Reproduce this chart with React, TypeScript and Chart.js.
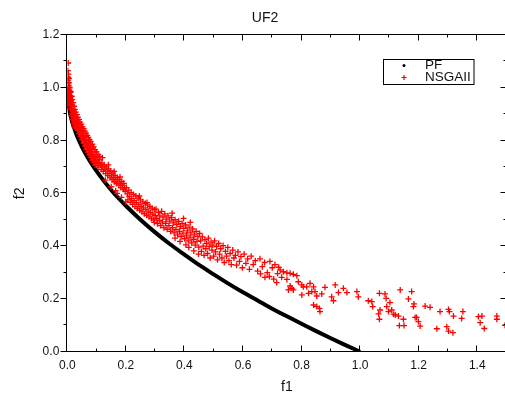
import React, { useEffect, useRef } from 'react';
import { Chart, registerables } from 'chart.js';

Chart.register(...registerables);

const chartTitle = 'UF2';
const xTitle = 'f1';
const yTitle = 'f2';
const xTicks = [0, 0.2, 0.4, 0.6, 0.8, 1.0, 1.2, 1.4];
const yTicks = [0, 0.2, 0.4, 0.6, 0.8, 1.0, 1.2];
const xMin = 0;
const xMax = 1.5;
const yMin = 0;
const yMax = 1.2;
const seriesNames = ['PF', 'NSGAII'];

// PF (true Pareto front)
const pfF1 = [0, 0.001, 0.003, 0.006, 0.01, 0.015, 0.02, 0.03, 0.04, 0.05, 0.065, 0.08, 0.1, 0.12, 0.14, 0.16, 0.18, 0.2, 0.25, 0.3, 0.35, 0.4, 0.45, 0.5, 0.55, 0.6, 0.65, 0.7, 0.75, 0.8, 0.85, 0.9, 0.95, 1.0];
const pfF2 = [1.0, 0.968, 0.945, 0.923, 0.9, 0.878, 0.859, 0.827, 0.8, 0.776, 0.745, 0.717, 0.684, 0.654, 0.626, 0.6, 0.576, 0.553, 0.5, 0.452, 0.408, 0.368, 0.329, 0.293, 0.258, 0.225, 0.194, 0.163, 0.134, 0.106, 0.078, 0.051, 0.025, 0.0];

// NSGAII population
const nsgaPoints: [number, number][] = [
  [0.003, 1.094], [0.002, 1.065], [0.004, 1.052], [0.003, 1.040], [0.006, 1.035], [0.002, 1.028], [0.005, 1.020], [0.004, 1.008],
  [0.007, 1.002], [0.003, 0.995], [0.006, 0.988], [0.009, 0.982], [0.005, 0.975], [0.008, 0.968], [0.011, 0.962], [0.007, 0.955],
  [0.010, 0.950], [0.013, 0.945], [0.009, 0.938], [0.012, 0.932], [0.015, 0.928], [0.011, 0.921], [0.014, 0.915], [0.018, 0.910],
  [0.016, 0.903], [0.020, 0.898], [0.014, 0.895], [0.019, 0.890], [0.023, 0.885], [0.018, 0.880], [0.022, 0.875], [0.026, 0.871],
  [0.021, 0.866], [0.025, 0.861], [0.029, 0.858], [0.024, 0.852], [0.028, 0.848], [0.032, 0.845], [0.004, 0.962], [0.002, 0.978],
  [0.006, 0.948], [0.009, 0.970], [0.007, 0.990], [0.004, 1.015], [0.008, 1.000],
  [0.012, 0.985], [0.015, 0.968], [0.017, 0.955], [0.020, 0.944], [0.023, 0.930], [0.026, 0.918], [0.029, 0.908], [0.033, 0.898],
  [0.036, 0.888], [0.040, 0.880], [0.044, 0.870], [0.048, 0.862], [0.052, 0.852], [0.056, 0.845], [0.060, 0.836], [0.064, 0.828],
  [0.068, 0.820], [0.072, 0.812], [0.076, 0.803], [0.080, 0.796], [0.085, 0.786], [0.090, 0.776], [0.095, 0.766], [0.100, 0.757],
  [0.105, 0.748], [0.110, 0.740],
  [0.016, 0.935], [0.022, 0.912], [0.027, 0.893], [0.033, 0.874], [0.039, 0.862], [0.044, 0.850], [0.050, 0.838], [0.055, 0.826],
  [0.061, 0.815], [0.067, 0.803], [0.073, 0.792], [0.079, 0.780], [0.085, 0.768], [0.092, 0.757], [0.098, 0.746], [0.104, 0.735],
  [0.030, 0.862], [0.034, 0.855], [0.031, 0.876], [0.036, 0.840], [0.038, 0.850], [0.035, 0.866], [0.041, 0.836], [0.043, 0.845],
  [0.040, 0.826], [0.046, 0.828], [0.048, 0.838], [0.045, 0.815], [0.051, 0.820], [0.053, 0.808], [0.050, 0.803], [0.056, 0.812],
  [0.058, 0.797], [0.055, 0.790], [0.061, 0.800], [0.063, 0.786], [0.060, 0.778], [0.066, 0.789], [0.068, 0.774], [0.065, 0.766],
  [0.071, 0.778], [0.073, 0.763], [0.070, 0.755], [0.076, 0.768], [0.078, 0.752], [0.075, 0.745], [0.081, 0.758], [0.083, 0.742],
  [0.080, 0.735], [0.086, 0.748], [0.088, 0.733], [0.085, 0.726], [0.091, 0.740], [0.093, 0.724], [0.090, 0.716], [0.096, 0.731],
  [0.098, 0.714], [0.095, 0.707], [0.101, 0.722],
  [0.103, 0.705], [0.106, 0.716], [0.108, 0.699], [0.111, 0.728], [0.113, 0.708], [0.116, 0.690], [0.118, 0.715], [0.121, 0.700],
  [0.123, 0.683], [0.126, 0.708], [0.128, 0.692], [0.131, 0.675], [0.133, 0.700], [0.136, 0.684], [0.138, 0.667], [0.141, 0.693],
  [0.143, 0.676], [0.146, 0.660], [0.148, 0.685], [0.151, 0.668], [0.153, 0.652], [0.156, 0.677], [0.158, 0.660], [0.161, 0.644],
  [0.163, 0.668], [0.166, 0.652], [0.168, 0.637], [0.171, 0.660], [0.173, 0.644], [0.176, 0.630], [0.178, 0.653], [0.181, 0.637],
  [0.183, 0.622], [0.186, 0.645], [0.188, 0.630], [0.191, 0.615], [0.193, 0.638], [0.196, 0.622], [0.198, 0.608], [0.120, 0.735],
  [0.140, 0.708], [0.160, 0.683], [0.180, 0.662], [0.150, 0.625], [0.165, 0.610], [0.185, 0.585], [0.200, 0.568], [0.130, 0.650],
  [0.170, 0.600],
  [0.202, 0.622], [0.205, 0.598], [0.207, 0.575], [0.210, 0.612], [0.212, 0.588], [0.215, 0.566], [0.218, 0.603], [0.220, 0.580],
  [0.223, 0.558], [0.226, 0.596], [0.228, 0.572], [0.231, 0.550], [0.234, 0.590], [0.236, 0.565], [0.239, 0.543], [0.242, 0.582],
  [0.244, 0.558], [0.247, 0.536], [0.250, 0.575], [0.252, 0.551], [0.255, 0.530], [0.258, 0.568], [0.260, 0.545], [0.263, 0.523],
  [0.266, 0.562], [0.268, 0.539], [0.271, 0.517], [0.274, 0.556], [0.276, 0.533], [0.279, 0.511], [0.282, 0.550], [0.284, 0.527],
  [0.287, 0.505], [0.290, 0.544], [0.292, 0.521], [0.295, 0.499], [0.298, 0.538], [0.300, 0.516], [0.246, 0.590], [0.272, 0.565],
  [0.297, 0.490],
  [0.303, 0.540], [0.305, 0.505], [0.308, 0.485], [0.311, 0.528], [0.314, 0.498], [0.316, 0.515], [0.319, 0.478], [0.322, 0.532],
  [0.325, 0.492], [0.327, 0.510], [0.330, 0.470], [0.333, 0.522], [0.336, 0.486], [0.338, 0.502], [0.341, 0.464], [0.344, 0.515],
  [0.347, 0.478], [0.350, 0.495], [0.353, 0.456], [0.356, 0.508], [0.359, 0.470], [0.362, 0.488], [0.365, 0.450], [0.368, 0.500],
  [0.371, 0.463], [0.374, 0.482], [0.377, 0.443], [0.380, 0.494], [0.383, 0.456], [0.386, 0.474], [0.389, 0.436], [0.392, 0.486],
  [0.395, 0.449], [0.398, 0.467], [0.401, 0.428], [0.404, 0.480], [0.407, 0.442], [0.410, 0.458], [0.413, 0.420], [0.416, 0.472],
  [0.419, 0.434], [0.422, 0.450], [0.425, 0.412], [0.428, 0.465], [0.431, 0.426], [0.434, 0.443], [0.437, 0.404], [0.440, 0.456],
  [0.443, 0.418], [0.446, 0.436], [0.449, 0.396], [0.452, 0.448], [0.358, 0.525], [0.397, 0.505], [0.420, 0.490], [0.415, 0.395],
  [0.432, 0.382], [0.448, 0.370], [0.405, 0.405], [0.385, 0.418], [0.368, 0.430],
  [0.455, 0.420], [0.458, 0.380], [0.461, 0.435], [0.464, 0.400], [0.467, 0.365], [0.470, 0.425], [0.473, 0.390], [0.476, 0.410],
  [0.479, 0.372], [0.482, 0.430], [0.485, 0.398], [0.488, 0.355], [0.491, 0.415], [0.494, 0.385], [0.497, 0.404], [0.500, 0.362],
  [0.503, 0.420], [0.506, 0.378], [0.510, 0.398], [0.513, 0.348], [0.517, 0.410], [0.520, 0.370], [0.524, 0.390], [0.528, 0.355],
  [0.532, 0.402], [0.536, 0.338], [0.540, 0.380], [0.544, 0.362], [0.548, 0.395], [0.552, 0.345], [0.556, 0.372], [0.560, 0.330],
  [0.565, 0.385], [0.569, 0.355], [0.574, 0.365], [0.578, 0.328], [0.583, 0.378], [0.588, 0.342], [0.593, 0.360], [0.598, 0.318],
  [0.604, 0.370], [0.610, 0.335], [0.616, 0.352], [0.622, 0.312], [0.628, 0.362], [0.635, 0.330], [0.642, 0.345], [0.650, 0.305],
  [0.658, 0.352], [0.666, 0.322], [0.674, 0.338], [0.683, 0.300], [0.692, 0.342], [0.700, 0.318], [0.709, 0.330], [0.718, 0.296],
  [0.722, 0.320], [0.690, 0.285], [0.705, 0.275], [0.715, 0.262], [0.660, 0.295], [0.675, 0.282],
  [0.727, 0.310], [0.738, 0.303], [0.750, 0.299], [0.761, 0.297], [0.772, 0.293], [0.784, 0.288], [0.732, 0.282], [0.750, 0.274],
  [0.789, 0.265], [0.801, 0.253], [0.806, 0.246], [0.761, 0.249], [0.767, 0.240], [0.772, 0.234], [0.755, 0.234], [0.818, 0.246],
  [0.829, 0.259], [0.841, 0.246], [0.835, 0.228], [0.846, 0.228], [0.824, 0.221], [0.801, 0.215], [0.852, 0.211], [0.841, 0.177],
  [0.852, 0.171], [0.861, 0.164], [0.863, 0.152], [0.869, 0.219], [0.880, 0.244], [0.903, 0.208], [0.909, 0.193], [0.915, 0.253],
  [0.926, 0.224], [0.943, 0.240], [0.955, 0.224], [0.989, 0.228], [0.994, 0.208], [1.028, 0.193], [1.040, 0.190], [1.043, 0.171],
  [1.063, 0.143], [1.068, 0.158], [1.066, 0.123], [1.066, 0.221], [1.085, 0.219], [1.089, 0.202], [1.091, 0.171], [1.097, 0.152],
  [1.102, 0.186], [1.108, 0.158], [1.114, 0.142], [1.120, 0.139], [1.131, 0.135], [1.137, 0.234], [1.134, 0.099], [1.148, 0.123],
  [1.150, 0.099], [1.165, 0.200], [1.176, 0.228], [1.182, 0.171], [1.184, 0.181], [1.188, 0.130], [1.193, 0.130], [1.199, 0.114],
  [1.205, 0.097], [1.222, 0.173], [1.239, 0.168], [1.262, 0.087], [1.273, 0.152], [1.296, 0.095], [1.302, 0.160], [1.305, 0.152],
  [1.302, 0.078], [1.317, 0.072], [1.319, 0.135], [1.347, 0.126], [1.351, 0.152], [1.404, 0.133], [1.416, 0.135], [1.410, 0.110],
  [1.424, 0.088], [1.467, 0.135], [1.467, 0.123], [1.495, 0.100],
];

const FONT = '"Liberation Sans", Arial, Helvetica, sans-serif';
const TEXT = '#111';

const crisp = (v: number) => Math.round(v) - 0.5;

const framePlugin = {
  id: 'frame',
  afterDatasetsDraw(chart: any) {
    const { ctx, chartArea: ca, scales } = chart;
    const xs = scales.x;
    const ys = scales.y;
    const L = crisp(ca.left);
    const R = crisp(ca.right);
    const T = crisp(ca.top);
    const B = crisp(ca.bottom);
    ctx.save();
    ctx.strokeStyle = '#000';
    ctx.lineWidth = 1;
    ctx.beginPath();
    ctx.moveTo(L, T); ctx.lineTo(R, T); ctx.lineTo(R, B); ctx.lineTo(L, B); ctx.closePath();
    ctx.stroke();
    const major = 6;
    const minor = 3;
    const xMinorVals: number[] = [];
    for (let i = 0; i < xTicks.length; i++) {
      const next = i + 1 < xTicks.length ? xTicks[i + 1] : xTicks[i] + (xTicks[1] - xTicks[0]);
      xMinorVals.push((xTicks[i] + next) / 2);
    }
    const yMinorVals: number[] = [];
    for (let i = 0; i + 1 < yTicks.length; i++) yMinorVals.push((yTicks[i] + yTicks[i + 1]) / 2);
    ctx.beginPath();
    const xt = (v: number, len: number) => {
      if (v < xMin || v > xMax) return;
      const px = crisp(xs.getPixelForValue(v));
      ctx.moveTo(px, B); ctx.lineTo(px, B - len);
      ctx.moveTo(px, T); ctx.lineTo(px, T + len);
    };
    xTicks.forEach((v) => xt(v, major));
    xMinorVals.forEach((v) => xt(v, minor));
    const yt = (v: number, len: number) => {
      const py = crisp(ys.getPixelForValue(v));
      ctx.moveTo(L, py); ctx.lineTo(L - len, py);
      ctx.moveTo(R, py); ctx.lineTo(R - len, py);
    };
    yTicks.forEach((v) => yt(v, major));
    yMinorVals.forEach((v) => yt(v, minor));
    ctx.stroke();
    ctx.restore();
  },
};

const legendPlugin = {
  id: 'boxLegend',
  afterDraw(chart: any) {
    const { ctx } = chart;
    const bx = 383.5, by = 59.5, bw = 90.5, bh = 25;
    ctx.save();
    ctx.fillStyle = '#fff';
    ctx.fillRect(bx, by, bw, bh);
    ctx.strokeStyle = '#000';
    ctx.lineWidth = 1;
    ctx.strokeRect(bx, by, bw, bh);
    const mx = 404;
    const tx = 425;
    const rows = [65.5, 77.5];
    ctx.fillStyle = '#000';
    ctx.beginPath();
    ctx.arc(mx, rows[0], 1.5, 0, Math.PI * 2);
    ctx.fill();
    ctx.strokeStyle = '#ff0000';
    ctx.lineWidth = 1.2;
    ctx.beginPath();
    ctx.moveTo(mx - 2.5, rows[1]); ctx.lineTo(mx + 2.5, rows[1]);
    ctx.moveTo(mx, rows[1] - 2.5); ctx.lineTo(mx, rows[1] + 2.5);
    ctx.stroke();
    ctx.fillStyle = TEXT;
    ctx.font = `13.5px ${FONT}`;
    ctx.textAlign = 'left';
    ctx.textBaseline = 'middle';
    ctx.fillText(seriesNames[0], tx, rows[0]);
    ctx.fillText(seriesNames[1], tx, rows[1]);
    ctx.restore();
  },
};

const titlePlugin = {
  id: 'topTitle',
  afterDraw(chart: any) {
    const { ctx } = chart;
    ctx.save();
    ctx.fillStyle = TEXT;
    ctx.font = `14px ${FONT}`;
    ctx.textAlign = 'center';
    ctx.textBaseline = 'middle';
    ctx.fillText(chartTitle, 265, 18);
    ctx.restore();
  },
};

export default function App() {
  const canvasRef = useRef<HTMLCanvasElement | null>(null);

  useEffect(() => {
    const canvas = canvasRef.current;
    if (!canvas) return;
    const chart = new Chart(canvas, {
      type: 'scatter',
      data: {
        datasets: [
          {
            label: seriesNames[0],
            data: pfF1.map((x, i) => ({ x, y: pfF2[i] })),
            showLine: true,
            borderColor: '#000',
            backgroundColor: '#000',
            borderWidth: 4,
            pointRadius: 0,
            cubicInterpolationMode: 'monotone',
            order: 1,
          } as any,
          {
            label: seriesNames[1],
            data: nsgaPoints.map(([x, y]) => ({ x, y })),
            showLine: false,
            pointStyle: 'cross',
            pointRadius: 3,
            pointBorderWidth: 1.3,
            pointBorderColor: '#ff0000',
            pointBackgroundColor: '#ff0000',
            borderColor: '#ff0000',
            backgroundColor: '#ff0000',
            order: 0,
          } as any,
        ],
      },
      options: {
        responsive: false,
        animation: false,
        layout: { padding: { left: 0, top: 35, right: 5.5, bottom: 0 } },
        plugins: {
          legend: { display: false },
          tooltip: { enabled: false },
          title: { display: false },
        },
        scales: {
          x: {
            type: 'linear',
            min: xMin,
            max: xMax,
            grid: { display: false, drawTicks: false },
            border: { display: false },
            afterBuildTicks: (s: any) => {
              s.ticks = xTicks.map((v) => ({ value: v }));
            },
            afterFit: (s: any) => {
              s.height = 44.3;
            },
            ticks: {
              padding: 7,
              color: TEXT,
              font: { family: FONT, size: 12 },
              maxRotation: 0,
              autoSkip: false,
              callback: (v: any) => Number(v).toFixed(1),
            },
            title: {
              display: true,
              text: xTitle,
              color: TEXT,
              font: { family: FONT, size: 14 },
              padding: { top: 0, bottom: 0 },
            },
          },
          y: {
            type: 'linear',
            min: yMin,
            max: yMax,
            grid: { display: false, drawTicks: false },
            border: { display: false },
            afterBuildTicks: (s: any) => {
              s.ticks = yTicks.map((v) => ({ value: v }));
            },
            afterFit: (s: any) => {
              s.width = 67.3;
            },
            ticks: {
              padding: 8,
              color: TEXT,
              font: { family: FONT, size: 12 },
              autoSkip: false,
              callback: (v: any) => Number(v).toFixed(1),
            },
            title: {
              display: true,
              text: yTitle,
              color: TEXT,
              font: { family: FONT, size: 14 },
              padding: { top: 11.5, bottom: 0 },
            },
          },
        },
      } as any,
      plugins: [framePlugin, legendPlugin, titlePlugin],
    });
    return () => chart.destroy();
  }, []);

  return (
    <div style={{ position: 'fixed', left: 0, top: 0, width: 505, height: 396, overflow: 'hidden', background: '#fff' }}>
      <canvas ref={canvasRef} width={512} height={396} style={{ display: 'block' }} />
    </div>
  );
}
